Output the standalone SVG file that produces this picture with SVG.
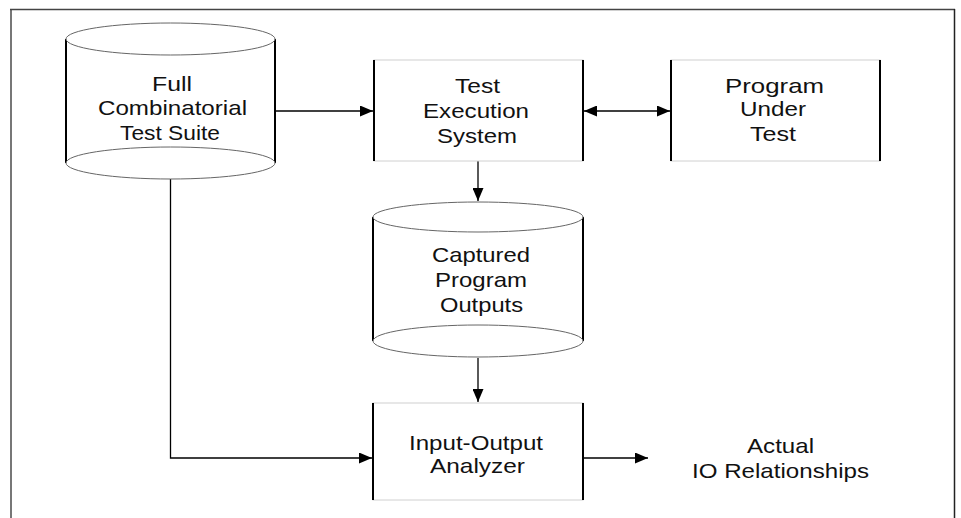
<svg xmlns="http://www.w3.org/2000/svg" width="961" height="518" viewBox="0 0 961 518">
<defs>
<marker id="ah" viewBox="0 0 13 11" refX="13" refY="5.5" markerWidth="13" markerHeight="11" markerUnits="userSpaceOnUse" orient="auto-start-reverse">
<path d="M0,0 L13,5.5 L0,11 Z" fill="#000"/>
</marker>
<style>
.t{font-family:"Liberation Sans",Arial,sans-serif;font-size:21px;fill:#111;text-anchor:middle}
.side{stroke:#000;stroke-width:2;fill:none}
.ell{stroke:#666;stroke-width:1;fill:#fff}
.c{stroke:#000;stroke-width:1.3;fill:none}
</style>
</defs>
<rect width="961" height="518" fill="#fff"/>
<g id="frame">
<line x1="11" y1="9" x2="11" y2="518" stroke="#777" stroke-width="2"/>
<line x1="10" y1="9.5" x2="955" y2="9.5" stroke="#444" stroke-width="1.5"/>
<line x1="954.5" y1="9" x2="954.5" y2="518" stroke="#222" stroke-width="1.5"/>
</g>
<g id="connectors">
<line class="c" x1="275" y1="111" x2="373" y2="111" marker-end="url(#ah)"/>
<line class="c" x1="584" y1="111" x2="670" y2="111" marker-start="url(#ah)" marker-end="url(#ah)"/>
<line class="c" x1="478" y1="161" x2="478" y2="201" marker-end="url(#ah)"/>
<line class="c" x1="478" y1="358" x2="478" y2="402" marker-end="url(#ah)"/>
<polyline class="c" points="170.5,179 170.5,458 372,458" marker-end="url(#ah)"/>
<line class="c" x1="583" y1="458" x2="648" y2="458" marker-end="url(#ah)"/>
</g>
<g id="full-suite">
<rect x="66" y="39" width="209" height="124" fill="#fff"/>
<line class="side" x1="66" y1="39" x2="66" y2="163"/>
<line class="side" x1="275" y1="39" x2="275" y2="163"/>
<ellipse class="ell" cx="170.5" cy="39" rx="104.5" ry="16"/>
<ellipse class="ell" cx="170.5" cy="163" rx="104.5" ry="16"/>
<text class="t" x="172" y="91" textLength="40" lengthAdjust="spacingAndGlyphs">Full</text>
<text class="t" x="172.5" y="115" textLength="149" lengthAdjust="spacingAndGlyphs">Combinatorial</text>
<text class="t" x="170" y="140" textLength="100" lengthAdjust="spacingAndGlyphs">Test Suite</text>
</g>
<g id="test-execution">
<rect x="374" y="60" width="209" height="101" fill="#fff" stroke="#d0d0d0" stroke-width="1"/>
<line class="side" x1="374" y1="60" x2="374" y2="161"/>
<line class="side" x1="583" y1="60" x2="583" y2="161"/>
<text class="t" x="477.5" y="93" textLength="45" lengthAdjust="spacingAndGlyphs">Test</text>
<text class="t" x="476" y="118" textLength="106" lengthAdjust="spacingAndGlyphs">Execution</text>
<text class="t" x="477" y="143" textLength="80" lengthAdjust="spacingAndGlyphs">System</text>
</g>
<g id="program-under-test">
<rect x="671" y="60" width="209" height="101" fill="#fff" stroke="#d0d0d0" stroke-width="1"/>
<line class="side" x1="671" y1="60" x2="671" y2="161"/>
<line class="side" x1="880" y1="60" x2="880" y2="161"/>
<text class="t" x="774.5" y="93" textLength="99" lengthAdjust="spacingAndGlyphs">Program</text>
<text class="t" x="773" y="116" textLength="66" lengthAdjust="spacingAndGlyphs">Under</text>
<text class="t" x="773" y="141" textLength="46" lengthAdjust="spacingAndGlyphs">Test</text>
</g>
<g id="captured-outputs">
<rect x="373" y="217" width="210" height="124" fill="#fff"/>
<line class="side" x1="373" y1="217" x2="373" y2="341"/>
<line class="side" x1="583" y1="217" x2="583" y2="341"/>
<ellipse class="ell" cx="478" cy="217" rx="105" ry="15"/>
<ellipse class="ell" cx="478" cy="341" rx="105" ry="16"/>
<text class="t" x="481" y="262" textLength="98" lengthAdjust="spacingAndGlyphs">Captured</text>
<text class="t" x="481" y="287" textLength="92" lengthAdjust="spacingAndGlyphs">Program</text>
<text class="t" x="481.5" y="312" textLength="83" lengthAdjust="spacingAndGlyphs">Outputs</text>
</g>
<g id="io-analyzer">
<rect x="373" y="403" width="210" height="97" fill="#fff" stroke="#d0d0d0" stroke-width="1"/>
<line class="side" x1="373" y1="403" x2="373" y2="500"/>
<line class="side" x1="583" y1="403" x2="583" y2="500"/>
<text class="t" x="476" y="450" textLength="134" lengthAdjust="spacingAndGlyphs">Input-Output</text>
<text class="t" x="477.5" y="473" textLength="95" lengthAdjust="spacingAndGlyphs">Analyzer</text>
</g>
<g id="actual-io">
<text class="t" x="780.5" y="453" textLength="67" lengthAdjust="spacingAndGlyphs">Actual</text>
<text class="t" x="780.5" y="478" textLength="177" lengthAdjust="spacingAndGlyphs">IO Relationships</text>
</g>
</svg>
